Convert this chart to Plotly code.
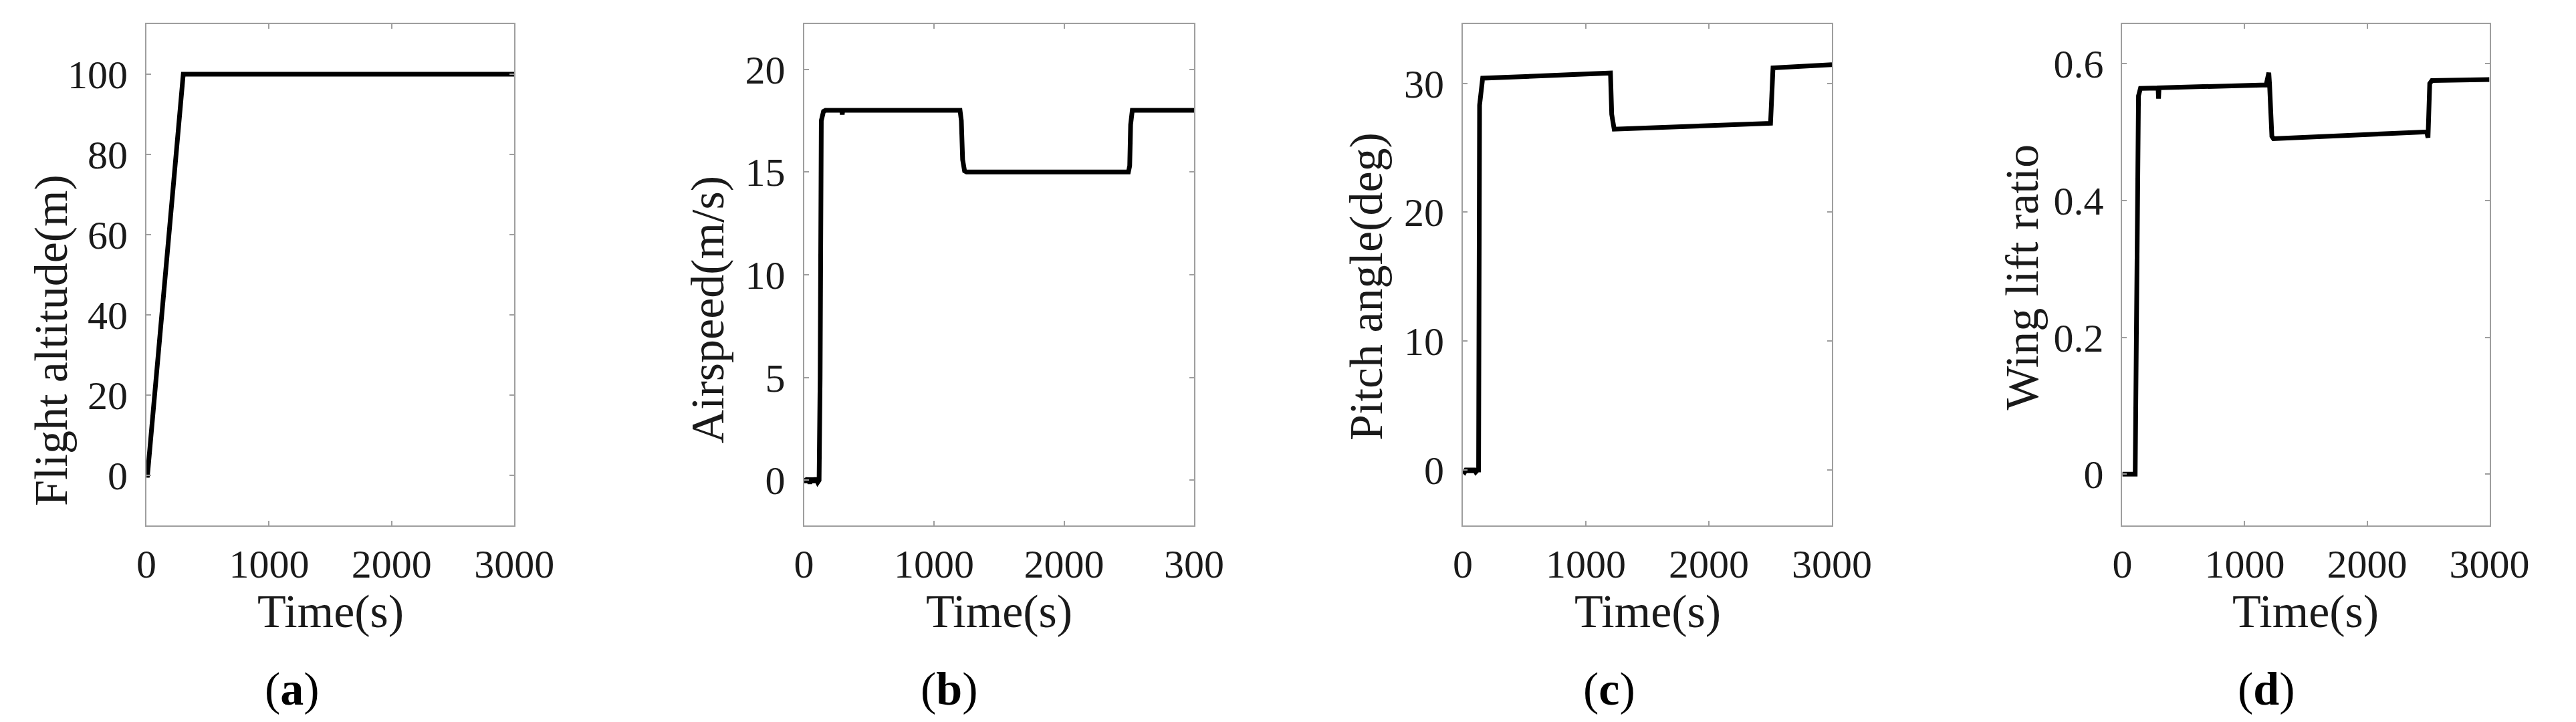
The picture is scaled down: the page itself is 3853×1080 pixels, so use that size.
import plotly.graph_objects as go

# (a) flight altitude
alt_time = [0, 8, 300, 3000]
alt_value = [0, 0, 100, 100]

# (b) airspeed
spd_time = [0, 15, 30, 45, 60, 75, 90, 105, 116, 124, 133, 150, 165,
            290, 294, 298, 1200, 1210, 1220, 1235, 1250,
            2495, 2505, 2512, 2525, 3000]
spd_value = [0.1, -0.1, 0.1, -0.15, 0.1, -0.1, 0.1, -0.1, 0, 5, 17.5, 17.95, 18,
             18, 17.8, 18, 18, 17.5, 15.6, 15.05, 15,
             15, 15.3, 17.3, 18, 18]

# (c) pitch angle
pitch_time = [0, 15, 30, 45, 60, 75, 90, 105, 120, 128, 136, 161,
              1200, 1210, 1230, 2501, 2511, 2521, 3000]
pitch_value = [0, -0.15, 0.1, -0.15, 0.1, -0.15, 0.1, -0.15, 0, 0, 28.3, 30.4,
               30.8, 27.6, 26.45, 26.9, 29.0, 31.2, 31.45]

# (d) wing lift ratio
lift_time = [0, 105, 132, 148, 292, 296, 300, 1175, 1197, 1203, 1210, 1222, 1235,
             2487, 2498, 2505, 2512, 2530, 3000]
lift_value = [0, 0, 0.553, 0.564, 0.5645, 0.549, 0.5648, 0.569, 0.587, 0.57, 0.52, 0.494, 0.4905,
              0.5003, 0.492, 0.52, 0.571, 0.5755, 0.577]

y_titles = ["Flight altitude(m)", "Airspeed(m/s)", "Pitch angle(deg)", "Wing lift ratio"]
x_title = "Time(s)"
panel_tags = ["a", "b", "c", "d"]

x_tickvals = [0, 1000, 2000, 3000]
x_ticktext = [["0", "1000", "2000", "3000"],
              ["0", "1000", "2000", "300"],
              ["0", "1000", "2000", "3000"],
              ["0", "1000", "2000", "3000"]]
y_tickvals = [[0, 20, 40, 60, 80, 100],
              [0, 5, 10, 15, 20],
              [0, 10, 20, 30],
              [0, 0.2, 0.4, 0.6]]
y_ticktext = [["0", "20", "40", "60", "80", "100"],
              ["0", "5", "10", "15", "20"],
              ["0", "10", "20", "30"],
              ["0", "0.2", "0.4", "0.6"]]
y_ranges = [[-12.5, 112.5], [-2.2, 22.2], [-4.3, 34.6], [-0.075, 0.658]]

W, H = 3853, 1080
FONT = "Liberation Serif, Times New Roman, serif"
FRAME = "#9e9e9e"

# pixel layout of each panel: plot box left/right, y-title x, y-title centre, tag x
box_lr = [(200, 761), (1203, 1798), (2208, 2771), (3214, 3774)]
box_tb = (28, 778)
ytitle_x = [54, 1056, 2061, 3061]
ytitle_y = [501, 455, 420, 406]
tag_x = [422, 1425, 2431, 3434]

series = [(alt_time, alt_value), (spd_time, spd_value),
          (pitch_time, pitch_value), (lift_time, lift_value)]

fig = go.Figure()
annotations = []
for i, (t, v) in enumerate(series):
    n = "" if i == 0 else str(i + 1)
    fig.add_trace(go.Scatter(x=t, y=v, mode="lines",
                             line=dict(color="black", width=7),
                             xaxis="x" + n, yaxis="y" + n, showlegend=False))
    l, r = box_lr[i]
    common = dict(showline=True, linecolor=FRAME, linewidth=2, mirror="ticks",
                  ticks="inside", ticklen=7, tickwidth=2, tickcolor=FRAME,
                  showgrid=False, zeroline=False,
                  tickfont=dict(family=FONT, size=60, color="#1a1a1a"))
    fig.update_layout(**{
        "xaxis" + n: dict(domain=[l / W, r / W], range=[0, 3000],
                          anchor="y" + n, tickvals=x_tickvals,
                          ticktext=x_ticktext[i], ticklabelstandoff=4, **common),
        "yaxis" + n: dict(domain=[1 - box_tb[1] / H, 1 - box_tb[0] / H],
                          range=y_ranges[i], anchor="x" + n,
                          tickvals=y_tickvals[i], ticktext=y_ticktext[i],
                          ticklabelstandoff=14, **common),
    })
    annotations.append(dict(text=y_titles[i], x=ytitle_x[i] / W, y=1 - ytitle_y[i] / H,
                            xref="paper", yref="paper", textangle=-90,
                            xanchor="center", yanchor="middle", showarrow=False,
                            font=dict(family=FONT, size=70, color="#1a1a1a")))
    annotations.append(dict(text=x_title, x=(l + r) / 2 / W, y=1 - 906 / H,
                            xref="paper", yref="paper",
                            xanchor="center", yanchor="middle", showarrow=False,
                            font=dict(family=FONT, size=70, color="#1a1a1a")))
    annotations.append(dict(text="(<b>" + panel_tags[i] + "</b>)", x=tag_x[i] / W,
                            y=1 - 1022 / H, xref="paper", yref="paper",
                            xanchor="center", yanchor="middle", showarrow=False,
                            font=dict(family=FONT, size=70, color="black")))

fig.update_layout(width=W, height=H, margin=dict(l=0, r=0, t=0, b=0),
                  paper_bgcolor="white", plot_bgcolor="white",
                  annotations=annotations)

fig.write_html("out.html")
